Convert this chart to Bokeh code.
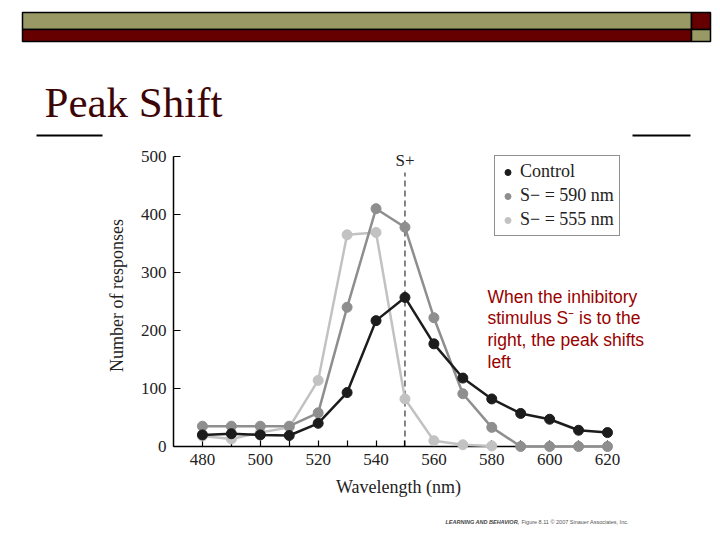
from bokeh.plotting import figure
from bokeh.models import FixedTicker, Legend, LegendItem, Range1d
from bokeh.core.properties import value
from bokeh.embed import file_html
from bokeh.resources import INLINE

# ---------------- data ----------------
wavelength = [480, 490, 500, 510, 520, 530, 540, 550, 560, 570, 580, 590, 600, 610, 620]
control = [20, 22, 20, 19, 40, 93, 217, 257, 177, 118, 82, 57, 47, 28, 24]
s_590 = [35, 35, 35, 35, 58, 240, 410, 378, 222, 91, 33, 0, 0, 0, 0]
wavelength_555 = [480, 490, 500, 510, 520, 530, 540, 550, 560, 570, 580]
s_555 = [18, 13, 24, 33, 114, 365, 369, 82, 10, 3, 1]
x_ticks = [480, 490, 500, 510, 520, 530, 540, 550, 560, 570, 580, 590, 600, 610, 620]
x_tick_labels = ["480", "", "500", "", "520", "", "540", "", "560", "", "580", "", "600", "", "620"]
y_ticks = [0, 100, 200, 300, 400, 500]
s_plus = 550
series_names = ["Control", "S\u2212 = 590 nm", "S\u2212 = 555 nm"]
title_text = "Peak Shift"
note_text = "When the inhibitory\nstimulus S\u207b is to the\nright, the peak shifts\nleft"
credit_bold = "LEARNING AND BEHAVIOR,"
credit_rest = "Figure 8.11  \u00a9 2007 Sinauer Associates, Inc."

SERIF = "Liberation Serif"
SANS = "Liberation Sans"
BLACK = "#1c1c1c"
GRAY = "#8e8e8e"
LIGHT = "#c2c2c2"
OLIVE = "#999966"
DRED = "#660000"

W, H = 720, 540
FL, FB = 173, 446                    # y axis at px 173, zero line at px 446
Y500_PX = 156                        # 500 responses sits at px 156
FT = 144                             # frame top (px), a bit above 500
X0, X620_PX = 470.0, 607.0           # axis starts at 470 nm; 620 nm sits at px 607
SX = (X620_PX - FL) / (620 - X0)     # px per nm
FR = 623                             # frame right edge (px), a bit past 620 nm
X1 = 620 + (FR - X620_PX) / SX
SY = (FB - Y500_PX) / 500.0          # px per response
Y1 = 500 + (Y500_PX - FT) / SY


def dx(px):
    return X0 + (px - FL) / SX


def dy(py):
    return (FB - py) / SY


p = figure(width=W, height=H, output_backend="svg", toolbar_location=None,
           x_range=Range1d(X0, X1), y_range=Range1d(0, Y1),
           min_border_left=FL, min_border_right=W - FR,
           min_border_top=FT, min_border_bottom=H - FB)
p.outline_line_color = None
p.xgrid.visible = False
p.ygrid.visible = False
p.background_fill_color = "white"
p.border_fill_color = "white"

# axes
xa = p.xaxis[0]
xa.bounds = (X0, 620)
xa.ticker = FixedTicker(ticks=x_ticks, minor_ticks=[])
xa.major_label_overrides = {t: l for t, l in zip(x_ticks, x_tick_labels)}
xa.major_tick_in = 6
xa.major_tick_out = 0
xa.minor_tick_line_color = None
xa.axis_line_width = 1.5
xa.major_tick_line_width = 1.2
xa.axis_line_color = "black"
xa.major_label_text_font = SERIF
xa.major_label_text_font_size = "17px"
xa.major_label_text_color = "#222222"
xa.major_label_standoff = 7
xa.axis_label = "Wavelength (nm)"
xa.axis_label_text_font = SERIF
xa.axis_label_text_font_size = "18px"
xa.axis_label_text_font_style = "normal"
xa.axis_label_text_color = "#222222"
xa.axis_label_standoff = 9

ya = p.yaxis[0]
ya.bounds = (0, 500)
ya.ticker = FixedTicker(ticks=y_ticks, minor_ticks=[])
ya.major_tick_in = 7
ya.major_tick_out = 0
ya.minor_tick_line_color = None
ya.axis_line_width = 1.5
ya.major_tick_line_width = 1.2
ya.axis_line_color = "black"
ya.major_label_text_font = SERIF
ya.major_label_text_font_size = "17px"
ya.major_label_text_color = "#222222"
ya.major_label_standoff = 7
ya.axis_label = "Number of responses"
ya.axis_label_text_font = SERIF
ya.axis_label_text_font_size = "18px"
ya.axis_label_text_font_style = "normal"
ya.axis_label_text_color = "#222222"
ya.axis_label_standoff = 11

OV = "overlay"

# S+ dashed line
p.segment(x0=[s_plus], y0=[0], x1=[s_plus], y1=[dy(172)], line_color="#333333",
          line_width=1.2, line_dash="6 4")
p.text(x=[s_plus], y=[dy(150)], text=["S+"], text_font=value(SERIF), text_font_size="17px",
       text_align="center", text_baseline="top", text_color="#222222", level=OV)

# series
p.line(wavelength_555, s_555, line_color=LIGHT, line_width=2.5, level=OV)
r3 = p.scatter(wavelength_555, s_555, size=10, fill_color=LIGHT, line_color=LIGHT, level=OV)
p.line(wavelength, s_590, line_color=GRAY, line_width=2.5, level=OV)
r2 = p.scatter(wavelength, s_590, size=10, fill_color=GRAY, line_color=GRAY, level=OV)
p.line(wavelength, control, line_color=BLACK, line_width=2.5, level=OV)
r1 = p.scatter(wavelength, control, size=10, fill_color=BLACK, line_color=BLACK, level=OV)

legend = Legend(items=[LegendItem(label=series_names[0], renderers=[r1]),
                       LegendItem(label=series_names[1], renderers=[r2]),
                       LegendItem(label=series_names[2], renderers=[r3])],
                location=(494 - FL, FB - 236), orientation="vertical",
                label_text_font=SERIF, label_text_font_size="18px",
                label_text_color="#222222", glyph_width=15, glyph_height=18,
                label_height=18, label_standoff=5, spacing=3, padding=5,
                margin=0, border_line_color="#222222", border_line_width=1.5,
                background_fill_color="white", background_fill_alpha=1.0)
p.add_layout(legend, "center")

# annotation text (glyph, so it is not clipped to the frame)
p.text(x=[dx(487)], y=[dy(286)], text=[note_text], text_font=value(SANS),
       text_font_size="17.5px", text_color="#990000", text_baseline="top",
       text_line_height=1.09, level=OV)

# slide decorations
p.quad(left=[dx(22), dx(22), dx(691), dx(691)], right=[dx(691), dx(691), dx(710), dx(710)],
       top=[dy(12), dy(29), dy(12), dy(29)], bottom=[dy(29), dy(41), dy(29), dy(41)],
       fill_color=[OLIVE, DRED, DRED, OLIVE], line_color="black", line_width=1.5, level=OV)
p.quad(left=[dx(36), dx(632)], right=[dx(102), dx(690)], top=[dy(134)] * 2,
       bottom=[dy(136)] * 2, fill_color="black", line_color=None, level=OV)

p.text(x=[dx(44)], y=[dy(78)], text=[title_text], text_font=value(SERIF),
       text_font_size="43px", text_color="#3d0505", text_baseline="top", level=OV)

p.text(x=[dx(445)], y=[dy(521)], text=[credit_bold], text_font=value(SANS),
       text_font_size="5.5px", text_font_style="bold italic", text_color="#444444",
       text_baseline="middle", level=OV)
p.text(x=[dx(521)], y=[dy(521)], text=[credit_rest], text_font=value(SANS),
       text_font_size="5.5px", text_color="#555555", text_baseline="middle", level=OV)

open("out.html", "w").write(file_html(p, INLINE))
